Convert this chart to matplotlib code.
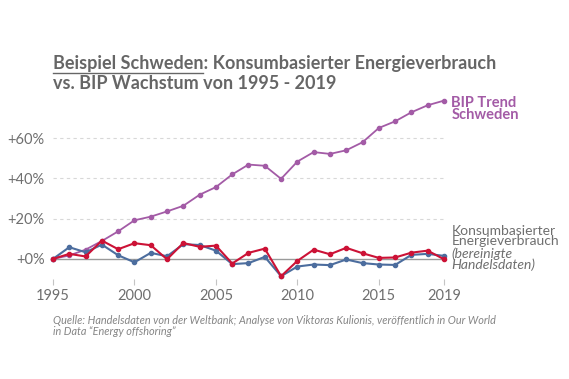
import matplotlib.pyplot as plt
import numpy as np

years = np.arange(1995, 2020)

# BIP (GDP) growth vs. 1995, in %
bip = [0, 1.7, 4.6, 8.9, 13.7, 19.2, 21.0, 23.6, 26.4, 31.9, 35.7, 42.0, 46.9,
       46.3, 39.8, 48.4, 53.1, 52.2, 54.0, 58.0, 65.1, 68.4, 72.9, 76.4, 78.7]

# consumption-based energy use (trade adjusted), % vs. 1995
konsum = [0, 2.5, 1.2, 9.1, 4.8, 7.8, 6.8, -0.2, 7.9, 6.0, 6.6, -2.3, 3.0,
          5.1, -8.6, -1.0, 4.6, 2.3, 5.5, 2.8, 0.5, 0.7, 3.1, 4.1, -0.2]

# production-based energy use
produktion = [0, 5.8, 3.3, 7.1, 1.8, -1.7, 3.0, 1.3, 7.3, 6.9, 4.1, -2.6, -2.1,
              1.0, -8.6, -3.8, -2.8, -3.1, -0.3, -2.1, -2.8, -3.0, 2.0, 2.5, 1.5]

xticks = [1995, 2000, 2005, 2010, 2015, 2019]
yticks = [0, 20, 40, 60]
ytick_labels = ["+0%", "+20%", "+40%", "+60%"]

purple = "#a35ba6"
blue = "#4c6d9e"
red = "#cc1236"
grey = "#6f6f6f"

plt.rcParams['font.family'] = ['Lato', 'DejaVu Sans']

fig = plt.figure(figsize=(5.69, 3.79), dpi=100)
ax = fig.add_axes([53 / 569, 100 / 379, (444 - 53) / 569, (281 - 100) / 379])

for y in yticks[1:]:
    ax.axhline(y, color="#d8d8d8", linewidth=0.8, linestyle=(0, (3, 3)), zorder=0)
ax.axhline(0, color="#9a9a9a", linewidth=1.0, zorder=1)

ax.plot(years, bip, color=purple, marker='o', markersize=3, linewidth=1.3, clip_on=False, zorder=3)
ax.plot(years, produktion, color=blue, marker='o', markersize=3, linewidth=1.5, clip_on=False, zorder=3)
ax.plot(years, konsum, color=red, marker='o', markersize=3, linewidth=1.5, clip_on=False, zorder=4)

ax.set_xlim(1995, 2019)
ax.set_ylim(-10, 80)
for s in ax.spines.values():
    s.set_visible(False)

ax.set_xticks(xticks)
ax.set_xticklabels([str(x) for x in xticks])
ax.set_yticks(yticks)
ax.set_yticklabels(ytick_labels)
ax.tick_params(axis='x', length=4, width=0.8, color="#c4c4c4", labelsize=10.5,
               labelcolor=grey, pad=3)
ax.tick_params(axis='y', length=0, labelsize=10.5, labelcolor=grey, pad=6)

# line labels on the right
ax.text(2019.45, 74.5, "BIP Trend\nSchweden", color=purple, fontsize=10.5,
        fontweight='bold', va='center', ha='left', linespacing=0.8, clip_on=False)
ax.text(2019.45, 11.5, "Konsumbasierter\nEnergieverbrauch", color=grey, fontsize=10,
        va='center', ha='left', linespacing=0.85, clip_on=False)
ax.text(2019.45, -0.2, "(bereinigte\nHandelsdaten)", color=grey, fontsize=10,
        style='italic', va='center', ha='left', linespacing=0.85, clip_on=False)

# title with underlined first part
title_color = "#666666"
tsize = 13
tx, ty = 53 / 569, 1 - 69 / 379
fig.text(tx, ty, "Beispiel Schweden: Konsumbasierter Energieverbrauch",
         fontsize=tsize, fontweight='bold', color=title_color, va='baseline')
fig.text(tx, 1 - 89 / 379, "vs. BIP Wachstum von 1995 - 2019",
         fontsize=tsize, fontweight='bold', color=title_color, va='baseline')
probe = fig.text(tx, ty, "Beispiel Schweden", fontsize=tsize, fontweight='bold',
                 va='baseline', alpha=0)
fig.canvas.draw()
bb = probe.get_window_extent().transformed(fig.transFigure.inverted())
uy = 1 - 72.5 / 379
fig.add_artist(plt.Line2D([bb.x0, bb.x1], [uy, uy], transform=fig.transFigure,
                          color=title_color, linewidth=1.0))

fig.text(tx, 1 - 315 / 379,
         "Quelle: Handelsdaten von der Weltbank; Analyse von Viktoras Kulionis, veröffentlich in Our World\n"
         "in Data \u201cEnergy offshoring\u201d",
         fontsize=7.8, style='italic', color="#858585", va='top', linespacing=1.0)

fig.savefig("out.png", dpi=100)
